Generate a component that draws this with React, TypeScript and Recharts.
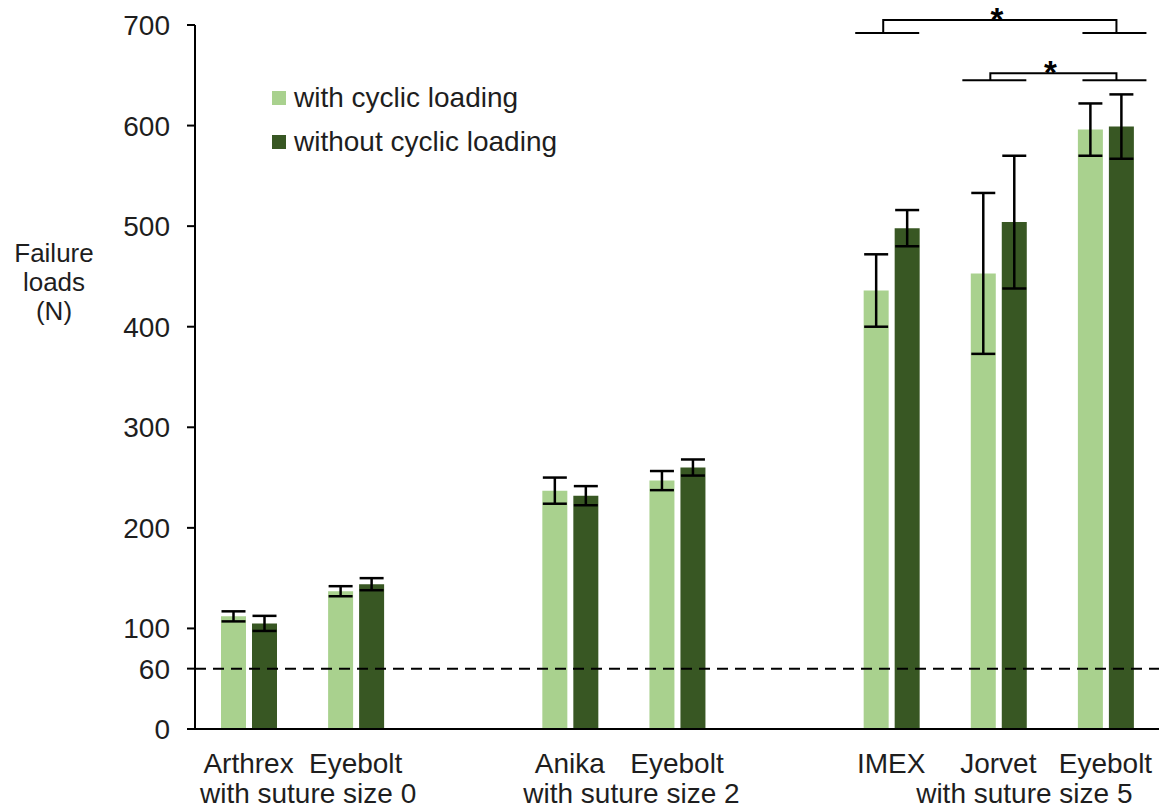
import React from "react";
import {
  BarChart,
  Bar,
  XAxis,
  YAxis,
  ErrorBar,
  ReferenceLine,
  Legend,
  Customized,
} from "recharts";

// categories, with two empty slots separating the suture-size groups
const categories = ["Arthrex", "Eyebolt", "", "Anika", "Eyebolt", "", "IMEX", "Jorvet", "Eyebolt"];
const sutureGroup = ["0", "0", "", "2", "2", "", "5", "5", "5"];
const groupLabels: Record<string, string> = {
  "0": "with suture size 0",
  "2": "with suture size 2",
  "5": "with suture size 5",
};

const withCyclic = [112, 137, null, 237, 247, null, 436, 453, 596];
const withCyclicErr = [5, 5, null, 13, 9.5, null, 36, 80, 26];
const withoutCyclic = [105, 144, null, 232, 260, null, 498, 504, 599];
const withoutCyclicErr = [7.5, 6, null, 9.5, 8, null, 18, 66, 32];

const yTicks = [0, 60, 100, 200, 300, 400, 500, 600, 700];
const yTitle = ["Failure", "loads", "(N)"];
const threshold = 60;

// significance brackets (category index, value levels)
const brackets = [
  { from: 6, to: 8, top: 705, base: 692 },
  { from: 7, to: 8, top: 652, base: 645 },
];

const LIGHT = "#A9D18E";
const DARK = "#385723";
const TEXT = "#1e1e1e";
const FONT = "'Liberation Sans', Arial, sans-serif";
const FS = 28;

const data = categories.map((name, i) => ({
  name,
  light: withCyclic[i],
  lightErr: withCyclicErr[i],
  dark: withoutCyclic[i],
  darkErr: withoutCyclicErr[i],
}));

const W = 1159;
const H = 812;
const plot = { left: 195, top: 25, width: W - 195, height: 704 };
const band = plot.width / categories.length;
const xOf = (i: number) => plot.left + (i + 0.5) * band;
const yOf = (v: number) => plot.top + (1 - v / 700) * plot.height;

const groupShift: Record<string, number> = { "0": 6, "2": 8, "5": 26 };

const CategoryTick = (props: any) => {
  const { x, y, payload } = props;
  const i = payload?.index ?? props.index ?? 0;
  const g = sutureGroup[i];
  const first = g !== "" && sutureGroup.indexOf(g) === i;
  const count = sutureGroup.filter((s) => s === g).length;
  return (
    <g>
      <text x={x} y={y} dy={44} textAnchor="middle" fontSize={FS} fill={TEXT} fontFamily={FONT}>
        {categories[i]}
      </text>
      {first && (
        <text
          x={x + ((count - 1) / 2) * band + groupShift[g]}
          y={y}
          dy={74}
          textAnchor="middle"
          fontSize={FS}
          fill={TEXT}
          fontFamily={FONT}
        >
          {groupLabels[g]}
        </text>
      )}
    </g>
  );
};

const LegendBox = () => (
  <div style={{ fontFamily: FONT, fontSize: FS, color: TEXT, lineHeight: "44px" }}>
    {[
      { label: "with cyclic loading", color: LIGHT },
      { label: "without cyclic loading", color: DARK },
    ].map((it) => (
      <div key={it.label} style={{ display: "flex", alignItems: "center", whiteSpace: "nowrap" }}>
        <span style={{ width: 14, height: 14, background: it.color, marginRight: 8, display: "inline-block" }} />
        {it.label}
      </div>
    ))}
  </div>
);

const Extras = () => (
  <g fontFamily={FONT}>
    <text x={54} y={262} textAnchor="middle" fontSize={26} fill={TEXT}>
      {yTitle.map((line, k) => (
        <tspan key={k} x={54} dy={k === 0 ? 0 : 29}>
          {line}
        </tspan>
      ))}
    </text>
    {brackets.map((b, k) => {
      const l = xOf(b.from);
      const r = xOf(b.to);
      const yt = yOf(b.top);
      const yb = yOf(b.base);
      const lv = l - 8;
      const rv = r + 11;
      return (
        <g key={k} stroke="#000" strokeWidth={2} fill="none">
          <path d={`M${l - 36},${yb} H${l + 28} M${lv},${yb} V${yt} H${rv} V${yb} M${r - 23},${yb} H${r + 41}`} />
          <text
            x={(lv + rv) / 2 - 3}
            y={yt + 11}
            textAnchor="middle"
            fontSize={33}
            fontWeight="bold"
            fill="#000"
            stroke="none"
          >
            *
          </text>
        </g>
      );
    })}
  </g>
);

export default function App() {
  return (
    <div style={{ position: "absolute", left: 0, top: 0, width: W, height: H, background: "#fff" }}>
      <BarChart
        width={W}
        height={H}
        data={data}
        margin={{ top: plot.top, right: 0, bottom: 0, left: plot.left - 100 }}
        barSize={25}
        barGap={6}
      >
        <XAxis
          dataKey="name"
          height={H - plot.top - plot.height}
          axisLine={{ stroke: "#000", strokeWidth: 2 }}
          tickLine={false}
          tickSize={0}
          tickMargin={0}
          interval={0}
          tick={<CategoryTick />}
        />
        <YAxis
          width={100}
          domain={[0, 700]}
          ticks={yTicks}
          interval={0}
          axisLine={{ stroke: "#000", strokeWidth: 2 }}
          tickLine={{ stroke: "#000", strokeWidth: 2 }}
          tickSize={8}
          tickMargin={17}
          tick={{ fontSize: FS, fill: TEXT, fontFamily: FONT }}
        />
        <ReferenceLine y={threshold} stroke="#000" strokeWidth={2} strokeDasharray="11 7" />
        <Bar dataKey="light" name="with cyclic loading" fill={LIGHT} isAnimationActive={false}>
          <ErrorBar dataKey="lightErr" width={12} stroke="#000" strokeWidth={2.5} direction="y" isAnimationActive={false} />
        </Bar>
        <Bar dataKey="dark" name="without cyclic loading" fill={DARK} isAnimationActive={false}>
          <ErrorBar dataKey="darkErr" width={12} stroke="#000" strokeWidth={2.5} direction="y" isAnimationActive={false} />
        </Bar>
        <Legend
          layout="vertical"
          align="center"
          verticalAlign="middle"
          content={<LegendBox />}
          wrapperStyle={{ left: 272, top: 76, width: "auto", height: "auto" }}
        />
        <Customized component={Extras} />
      </BarChart>
    </div>
  );
}
